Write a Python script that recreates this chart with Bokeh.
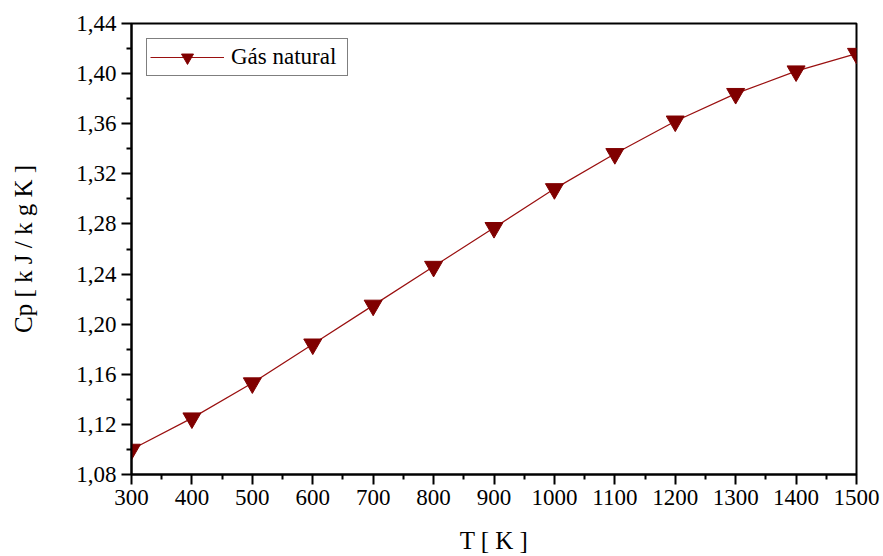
from bokeh.plotting import figure
from bokeh.models import Range1d, FixedTicker, Legend, LegendItem, ColumnDataSource
from bokeh.embed import file_html
from bokeh.resources import INLINE

T = [300, 400, 500, 600, 700, 800, 900, 1000, 1100, 1200, 1300, 1400, 1500]
cp = [1.100, 1.125, 1.153, 1.184, 1.215, 1.246, 1.277, 1.308, 1.336, 1.362, 1.384, 1.402, 1.416]
series_name = "Gás natural"
x_ticks = [300, 400, 500, 600, 700, 800, 900, 1000, 1100, 1200, 1300, 1400, 1500]
y_ticks = [1.08, 1.12, 1.16, 1.20, 1.24, 1.28, 1.32, 1.36, 1.40, 1.44]
y_tick_labels = ["1,08", "1,12", "1,16", "1,20", "1,24", "1,28", "1,32", "1,36", "1,40", "1,44"]

FONT = "Liberation Serif"

p = figure(width=883, height=556, output_backend="svg", toolbar_location=None,
           x_range=Range1d(300, 1500), y_range=Range1d(1.08, 1.44))
p.min_border_left = 131
p.min_border_right = 27
p.min_border_top = 23
p.min_border_bottom = 82
p.grid.visible = False
p.outline_line_color = "black"
p.outline_line_width = 2
p.background_fill_color = "white"
p.border_fill_color = "white"

src = ColumnDataSource(dict(x=T, y=cp))
ln = p.line("x", "y", source=src, line_color="#9a1010", line_width=1.2)
sc = p.scatter("x", "y", source=src, marker="inverted_triangle", size=18,
               fill_color="#800000", line_color="#800000")

p.xaxis.ticker = FixedTicker(ticks=x_ticks, minor_ticks=[350 + 100 * i for i in range(12)])
p.yaxis.ticker = FixedTicker(ticks=y_ticks, minor_ticks=[1.10 + 0.04 * i for i in range(9)])
p.yaxis.major_label_overrides = {t: l for t, l in zip(y_ticks, y_tick_labels)}

for ax in (p.xaxis[0], p.yaxis[0]):
    ax.axis_line_width = 2
    ax.axis_line_color = "black"
    ax.major_tick_line_width = 2
    ax.minor_tick_line_width = 2
    ax.major_tick_out = 10
    ax.major_tick_in = 0
    ax.minor_tick_out = 5
    ax.minor_tick_in = 0
    ax.major_label_text_font = FONT
    ax.major_label_text_font_size = "23px"
    ax.major_label_text_color = "black"
    ax.axis_label_text_font = FONT
    ax.axis_label_text_font_size = "25px"
    ax.axis_label_text_font_style = "normal"
    ax.axis_label_text_color = "black"

p.xaxis.axis_label = "T [ K ]"
p.yaxis.axis_label = "Cp [ k J / k g K ]"
p.xaxis.major_label_standoff = 5
p.xaxis.axis_label_standoff = 19
p.yaxis.major_label_standoff = 5
p.yaxis.axis_label_standoff = 36

legend = Legend(items=[LegendItem(label=series_name, renderers=[ln, sc])],
                location="top_left")
legend.label_text_font = FONT
legend.label_text_font_size = "23px"
legend.label_text_color = "black"
legend.border_line_color = "black"
legend.border_line_width = 1
legend.padding = 3
legend.margin = 15
legend.glyph_width = 74
legend.glyph_height = 30
legend.label_standoff = 7
legend.label_height = 30
legend.label_width = 113
legend.background_fill_alpha = 1
p.add_layout(legend)

open("out.html", "w").write(file_html(p, INLINE))
